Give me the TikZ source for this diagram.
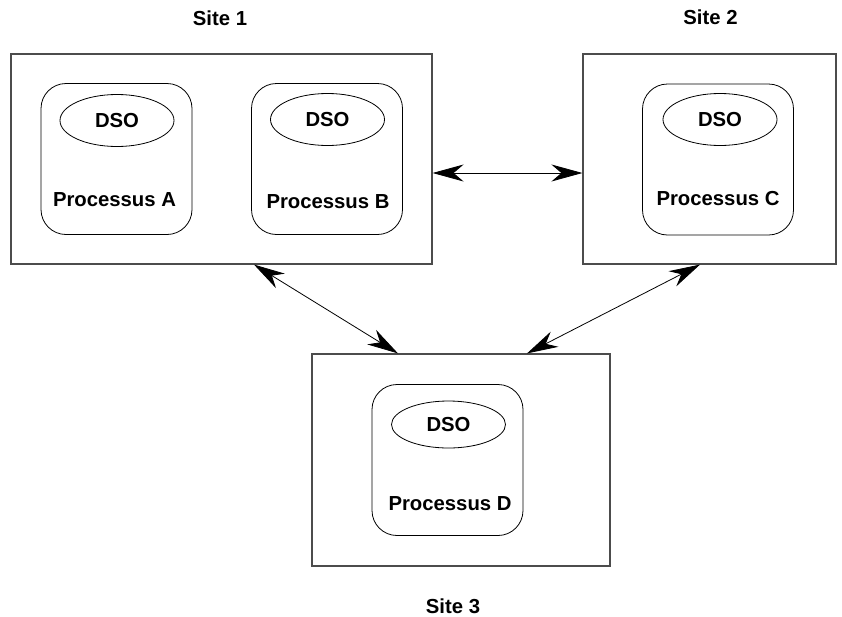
\documentclass[tikz,border=0pt]{standalone}
\usepackage{fontspec}
\setmainfont{Liberation Sans}
\usetikzlibrary{shapes.geometric,arrows.meta}
\begin{document}
\begin{tikzpicture}[x=1pt,y=-1pt,
  txt/.style={font=\fontsize{20.3}{24}\selectfont\bfseries,inner sep=0pt,anchor=base},
  sitebox/.style={draw=black!70,line width=1.2pt,rectangle,inner sep=0pt},
  procbox/.style={draw=black,line width=0.8pt,rectangle,rounded corners=25pt,inner sep=0pt,
    minimum width=151pt,minimum height=151pt},
  dso/.style={draw=black,line width=0.8pt,ellipse,inner sep=0pt,minimum width=114pt,minimum height=52pt,
    font=\fontsize{20.3}{24}\selectfont\bfseries},
  tip/.tip={Stealth[length=31pt,width=17pt,inset=10pt]},
  biarrow/.style={line width=0.8pt,tip-tip}]
\useasboundingbox (0,0) rectangle (842,616);

% sites
\node[sitebox,minimum width=421pt,minimum height=210pt] (s1) at (221.5,159) {};
\node[sitebox,minimum width=253pt,minimum height=210pt] (s2) at (709.5,159) {};
\node[sitebox,minimum width=298pt,minimum height=212pt] (s3) at (461,460) {};

\node[txt] (l1) at (220,25) {Site 1};
\node[txt] (l2) at (710.5,24) {Site 2};
\node[txt] (l3) at (453,613) {Site 3};

% processes
\node[procbox] (pa) at (116.5,159) {};
\node[procbox] (pb) at (327,159) {};
\node[procbox] (pc) at (718,159.5) {};
\node[procbox] (pd) at (447.5,460) {};

\node[dso] (da) at (117,120.5) {DSO};
\node[dso] (db) at (327.5,119.5) {DSO};
\node[dso] (dc) at (720,119.5) {DSO};
\node[dso,minimum height=47pt] (dd) at (448.5,424.5) {DSO};

\node[txt] (ta) at (114.5,206) {Processus A};
\node[txt] (tb) at (328,208) {Processus B};
\node[txt] (tc) at (718,205) {Processus C};
\node[txt] (td) at (450,510) {Processus D};

% links between sites
\draw[biarrow] ([yshift=-14pt]s1.east) -- ([yshift=-14pt]s2.west);
\draw[biarrow] ([xshift=32.5pt]s1.south) -- ([xshift=-63pt]s3.north);
\draw[biarrow] ([xshift=-9.5pt]s2.south) -- ([xshift=66pt]s3.north);
\end{tikzpicture}
\end{document}
